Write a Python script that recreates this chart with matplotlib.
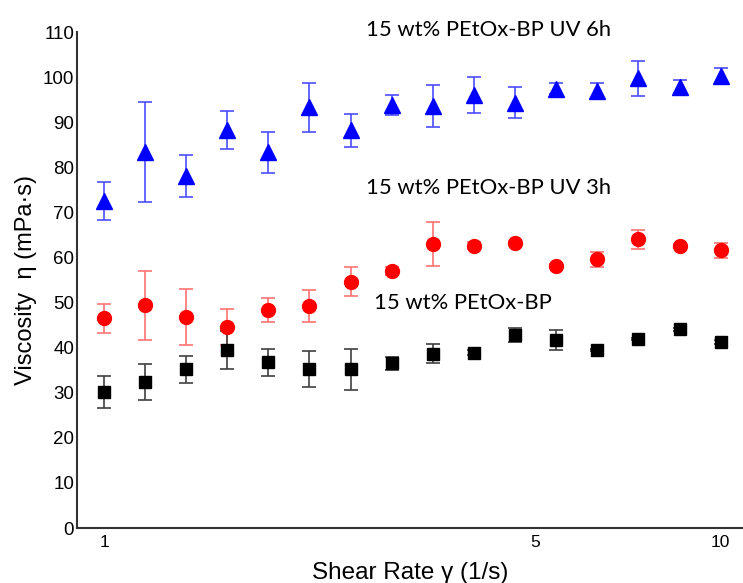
import matplotlib.pyplot as plt

# --- Data ---
shear_rate = [1.000, 1.166, 1.359, 1.585, 1.848, 2.154, 2.512, 2.929,
              3.415, 3.981, 4.642, 5.412, 6.310, 7.356, 8.577, 10.000]

visc_uv6h = [72.5, 83.4, 78.0, 88.2, 83.3, 93.3, 88.2, 93.8,
             93.6, 96.0, 94.3, 97.4, 97.0, 99.7, 97.9, 100.2]
err_uv6h = [4.3, 11.0, 4.7, 4.2, 4.5, 5.5, 3.6, 2.2,
            4.7, 4.0, 3.4, 1.2, 1.6, 3.9, 1.5, 1.8]

visc_uv3h = [46.5, 49.4, 46.8, 44.6, 48.3, 49.2, 54.6, 57.0,
             63.0, 62.6, 63.2, 58.1, 59.6, 64.0, 62.5, 61.6]
err_uv3h = [3.2, 7.7, 6.2, 4.0, 2.7, 3.6, 3.2, 0.8,
            4.9, 0.8, 0.5, 0.5, 1.7, 2.1, 0.5, 1.7]

visc_neat = [30.2, 32.4, 35.2, 39.5, 36.8, 35.3, 35.2, 36.5,
             38.7, 38.9, 42.8, 41.7, 39.5, 41.9, 44.1, 41.3]
err_neat = [3.5, 4.0, 3.0, 4.2, 3.0, 4.0, 4.5, 1.5,
            2.0, 0.5, 1.6, 2.3, 0.3, 0.3, 0.3, 0.5]

xticks = [1, 5, 10]
yticks = list(range(0, 111, 10))

# --- Plot ---
fig = plt.figure(figsize=(7.43, 5.83), dpi=100)
ax = fig.add_axes([0.1036, 0.0943, 0.896, 0.8508])

ax.errorbar(shear_rate, visc_uv6h, yerr=err_uv6h, fmt='^', color='#0000FF',
            markersize=11, ecolor=(0.3, 0.3, 1.0), elinewidth=1.2, capsize=5, capthick=1.2)
ax.errorbar(shear_rate, visc_uv3h, yerr=err_uv3h, fmt='o', color='#FF0000',
            markersize=10, ecolor=(1.0, 0.45, 0.45), elinewidth=1.2, capsize=5, capthick=1.2)
ax.errorbar(shear_rate, visc_neat, yerr=err_neat, fmt='s', color='black',
            markersize=9, ecolor='#404040', elinewidth=1.2, capsize=5, capthick=1.2)

ax.set_xscale('log')
ax.set_xlim(0.904, 10.86)
ax.set_ylim(0, 110)
ax.set_xticks(xticks)
ax.set_xticklabels([str(t) for t in xticks])
ax.minorticks_off()
ax.set_yticks(yticks)
ax.tick_params(axis='both', length=0)
ax.tick_params(axis='y', labelsize=13.5, pad=2)
ax.tick_params(axis='x', labelsize=12.5, pad=5)
for lab in ax.get_xticklabels() + ax.get_yticklabels():
    lab.set_fontfamily('Liberation Sans')

for side in ['top', 'right']:
    ax.spines[side].set_visible(False)
for side in ['left', 'bottom']:
    ax.spines[side].set_color('#333333')
    ax.spines[side].set_linewidth(1.5)

ax.set_xlabel('Shear Rate \u03b3 (1/s)', fontsize=17.5, family='Liberation Sans', labelpad=9)
ax.set_ylabel('Viscosity  \u03b7 (mPa\u00b7s)', fontsize=17, family='Liberation Sans', labelpad=4)

ax.text(2.66, 110.4, '15 wt% PEtOx-BP UV 6h', fontsize=15.8, family='Lato', va='center')
ax.text(2.66, 75.4, '15 wt% PEtOx-BP UV 3h', fontsize=15.8, family='Lato', va='center')
ax.text(2.74, 49.9, '15 wt% PEtOx-BP', fontsize=15.8, family='Lato', va='center')

plt.savefig('out.png', dpi=100)
